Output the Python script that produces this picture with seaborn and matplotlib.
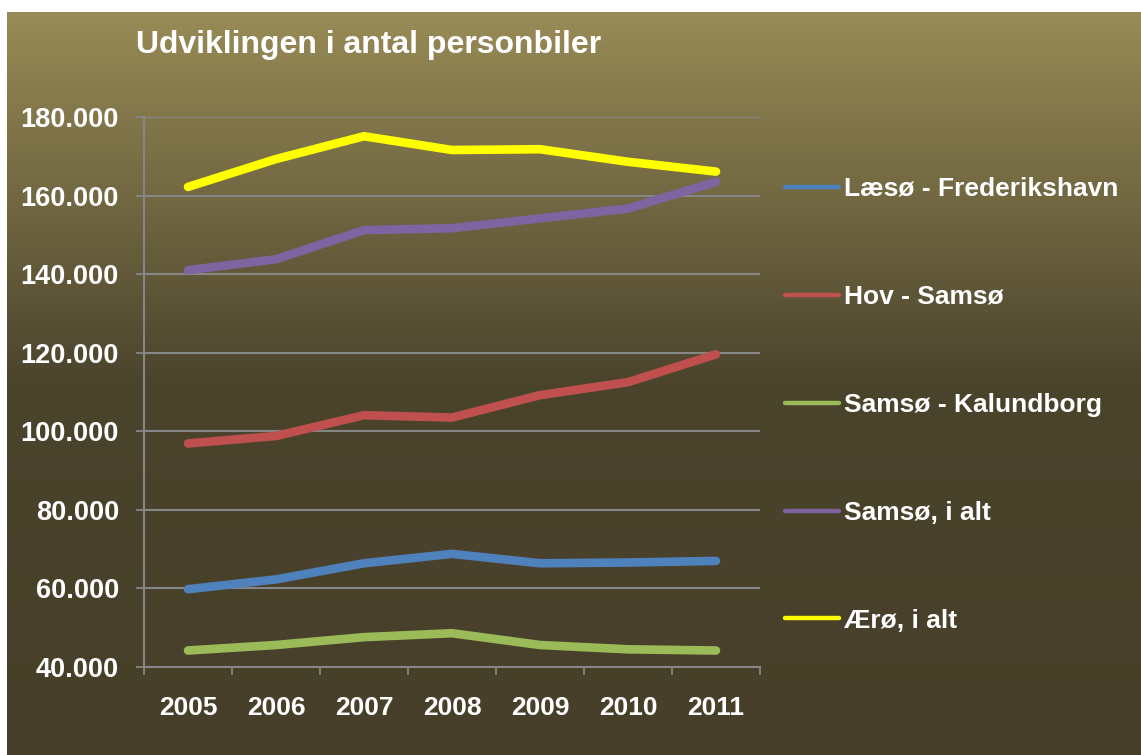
import numpy as np
import pandas as pd
import seaborn as sns
import matplotlib.pyplot as plt
from matplotlib.colors import LinearSegmentedColormap

# data (antal personbiler)
years = [2005, 2006, 2007, 2008, 2009, 2010, 2011]
laesoe_frederikshavn = [59800, 62300, 66400, 68800, 66400, 66600, 67000]
hov_samsoe = [96900, 98800, 104100, 103500, 109200, 112500, 119600]
samsoe_kalundborg = [44200, 45600, 47600, 48600, 45600, 44500, 44200]
samsoe_i_alt = [141000, 143800, 151200, 151700, 154200, 156700, 163500]
aeroe_i_alt = [162200, 169300, 175100, 171600, 171800, 168600, 166100]

series_names = ['Læsø - Frederikshavn', 'Hov - Samsø', 'Samsø - Kalundborg',
                'Samsø, i alt', 'Ærø, i alt']
series_values = [laesoe_frederikshavn, hov_samsoe, samsoe_kalundborg,
                 samsoe_i_alt, aeroe_i_alt]
colors = ['#4F81BD', '#C0504D', '#9BBB59', '#8064A2', '#FFFF00']
y_ticks = [40000, 60000, 80000, 100000, 120000, 140000, 160000, 180000]

df = pd.DataFrame({
    'year': years * len(series_names),
    'value': sum(series_values, []),
    'serie': [n for n in series_names for _ in years],
})

plt.rcParams['font.family'] = ['Liberation Sans', 'DejaVu Sans']
plt.rcParams['font.weight'] = 'bold'

fig = plt.figure(figsize=(11.41, 7.55), dpi=100)
fig.patch.set_facecolor('white')

# gradient background (white strip left and top like the reference)
bg = fig.add_axes([7 / 1141, 0, 1 - 7 / 1141, 1 - 12 / 755])
grad = LinearSegmentedColormap.from_list(
    'bg', [(0.0, (152/255, 139/255, 86/255)),
           (0.5, (75/255, 68/255, 45/255)),
           (1.0, (71/255, 63/255, 41/255))])
bg.imshow(np.linspace(0, 1, 256).reshape(-1, 1), aspect='auto', cmap=grad,
          extent=[0, 1, 0, 1])
bg.set_axis_off()

ax = fig.add_axes([144 / 1141, 88 / 755, 616 / 1141, 550 / 755])
ax.patch.set_alpha(0)

sns.lineplot(data=df, x='year', y='value', hue='serie', hue_order=series_names,
             palette=colors, linewidth=6.2, solid_capstyle='round', ax=ax,
             legend=True)

gridc = '#868686'
ax.set_xlim(2004.5, 2011.5)
ax.set_ylim(40000, 180000)
ax.set_yticks(y_ticks)
ax.set_yticklabels([f'{v:,}'.replace(',', '.') for v in y_ticks])
ax.set_xticks(years)
ax.set_xticklabels([str(y) for y in years])
ax.set_xticks(np.arange(2004.5, 2012, 1), minor=True)
ax.tick_params(axis='x', which='major', length=0, pad=21, labelsize=19,
               labelcolor='white')
ax.tick_params(axis='x', which='minor', length=6, width=1.3, color=gridc)
ax.tick_params(axis='y', length=6, width=1.3, color=gridc, pad=12,
               labelsize=19.5, labelcolor='white')
ax.grid(axis='y', color=gridc, linewidth=1.5)
ax.set_axisbelow(True)
for s in ['top', 'right']:
    ax.spines[s].set_visible(False)
for s in ['left', 'bottom']:
    ax.spines[s].set_color(gridc)
    ax.spines[s].set_linewidth(1.5)
ax.set_xlabel('')
ax.set_ylabel('')

leg = ax.legend(loc='upper left', bbox_to_anchor=(785 / 1141, 1 - 177 / 755),
                bbox_transform=fig.transFigure, frameon=False, fontsize=19,
                handlelength=2.05, handletextpad=0.2, labelspacing=3.18,
                borderpad=0, borderaxespad=0)
for line in leg.get_lines():
    line.set_linewidth(3.2)
for t in leg.get_texts():
    t.set_color('white')

fig.text(136 / 1141, 1 - 45 / 755, 'Udviklingen i antal personbiler',
         fontsize=23, fontweight='bold', color='white', va='center')

fig.savefig('out.png', dpi=100)
